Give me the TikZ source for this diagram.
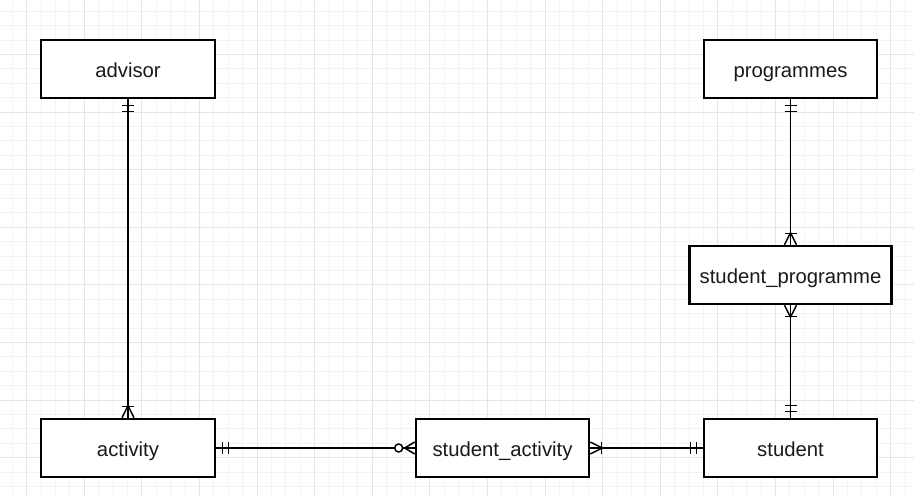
\documentclass[tikz,border=0pt]{standalone}
\usepackage{fontspec}
\setmainfont{Liberation Sans}
\usepackage{xcolor}
\usetikzlibrary{calc,positioning}

\definecolor{gridminor}{HTML}{F3F3F3}
\definecolor{gridmajor}{HTML}{E6E6E6}
\definecolor{inkdark}{HTML}{1A1A1A}

\tikzset{
  entity/.style={draw=black, fill=white, line width=2.6pt, minimum width=174pt,
    minimum height=58pt, inner sep=0pt, text=inkdark,
    text height=18.5pt, text depth=1.5pt},
  link/.style={draw=black, line width=1.5pt},
  % crow's foot ends, drawn along +x away from the entity edge
  mandone/.pic={
    \draw[link] (6,-6) -- (6,6);
    \draw[link] (12,-6) -- (12,6);
  },
  onemany/.pic={
    \draw[link] (0,-6) -- (12,0) -- (0,6);
    \draw[link] (11,-6) -- (11,6);
  },
  zeromany/.pic={
    \draw[link] (0,-6) -- (10,0) -- (0,6);
    \draw[link, fill=white] (16,0) circle (4);
  }
}

\begin{document}
\begin{tikzpicture}[x=1pt, y=1pt, every node/.style={font=\fontsize{20.3}{24}\selectfont}]
  \clip (0,0) rectangle (914,496);
  \fill[white] (0,0) rectangle (914,496);

  % background grid
  \foreach \k in {-3,...,62} {
    \draw[gridminor, line width=0.8pt] ({41+14.4*\k},0) -- ++(0,496);
  }
  \foreach \k in {-3,...,33} {
    \draw[gridminor, line width=0.8pt] (0,{456-14.4*\k}) -- ++(914,0);
  }
  \foreach \k in {-1,...,16} {
    \draw[gridmajor, line width=0.9pt] ({26.6+57.6*\k},0) -- ++(0,496);
  }
  \foreach \k in {-1,...,8} {
    \draw[gridmajor, line width=0.9pt] (0,{441.6-57.6*\k}) -- ++(914,0);
  }

  % entities
  \node[entity] (adv) at (128,427) {advisor};
  \node[entity, minimum width=173pt] (prog) at (790.5,427) {programmes};
  \node[entity, minimum width=202pt] (sprog) at (790.5,221) {student\_programme};
  \node[entity] (act) at (128,48) {activity};
  \node[entity, minimum width=173pt] (sact) at (502.5,48) {student\_activity};
  \node[entity, minimum width=173pt] (stu) at (790.5,48) {student};

  % relationships
  \draw[link] (adv) -- (act);
  \draw[link] (prog) -- (sprog);
  \draw[link] (sprog) -- (stu);
  \draw[link] (act) -- (sact);
  \draw[link] (sact) -- (stu);

  % cardinality ends
  \pic[rotate=-90] at (adv.south) {mandone};
  \pic[rotate=90] at (act.north) {onemany};
  \pic at (act.east) {mandone};
  \pic[rotate=180] at (sact.west) {zeromany};
  \pic at (sact.east) {onemany};
  \pic[rotate=180] at (stu.west) {mandone};
  \pic[rotate=-90] at (prog.south) {mandone};
  \pic[rotate=90] at (sprog.north) {onemany};
  \pic[rotate=-90] at (sprog.south) {onemany};
  \pic[rotate=90] at (stu.north) {mandone};
\end{tikzpicture}
\end{document}
